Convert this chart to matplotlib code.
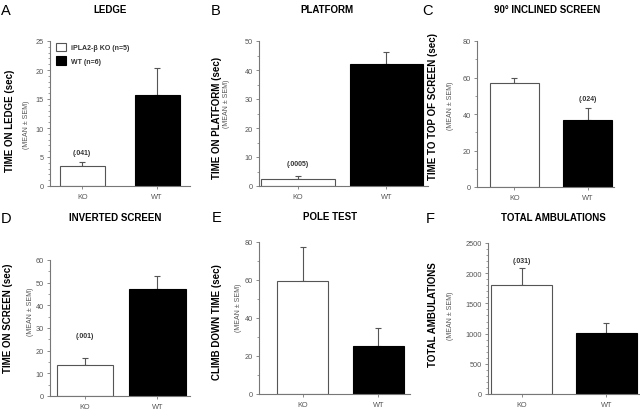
import numpy as np
import matplotlib
matplotlib.use("Agg")
import matplotlib.pyplot as plt
from matplotlib.ticker import MultipleLocator, AutoMinorLocator

plt.rcParams['font.family'] = ['Liberation Sans', 'DejaVu Sans']

# data (mean and upper SEM)
letters = ["A", "B", "C", "D", "E", "F"]
titles = ["LEDGE", "PLATFORM", "90° INCLINED SCREEN",
          "INVERTED SCREEN", "POLE TEST", "TOTAL AMBULATIONS"]
ylabels = ["TIME ON LEDGE (sec)", "TIME ON PLATFORM (sec)", "TIME TO TOP OF SCREEN (sec)",
           "TIME ON SCREEN (sec)", "CLIMB DOWN TIME (sec)", "TOTAL AMBULATIONS"]
groups = ["KO", "WT"]
ko_mean = [3.5, 2.5, 56.8, 13.8, 59.3, 1800]
ko_sem = [0.6, 1.0, 3.2, 2.9, 18.2, 290]
wt_mean = [15.7, 42.0, 36.8, 47.3, 25.5, 1010]
wt_sem = [4.7, 4.3, 6.4, 5.5, 9.0, 170]
ymax = [25, 50, 80, 60, 80, 2500]
ystep = [5, 10, 20, 10, 20, 500]
# p-value labels: (text, which bar) or None
pvals = [("(.041)", 0), ("(.0005)", 0), ("(.024)", 1), ("(.001)", 0), None, ("(.031)", 0)]
legend_labels = ["iPLA2-β KO (n=5)", "WT (n=6)"]

W, H = 640, 410
GRAY = "#777777"
TXT = "#333333"

# layout in pixels: axes box (l, r, t, b), xlim, bar width, minor divisions
layout = [
    dict(box=(50, 190, 42, 187), xlim=(-0.43, 1.44), bw=0.60, minor=5,
         lab=(10, 121), mean=(26, 125), title=(110, 10), letter=(1, 4), poff=7),
    dict(box=(259, 428, 42, 187), xlim=(-0.44, 1.47), bw=0.83, minor=2,
         lab=(217, 118), mean=(226, 104), title=(327, 10), letter=(211, 4), poff=9),
    dict(box=(477, 614, 42, 188), xlim=(-0.51, 1.36), bw=0.67, minor=2,
         lab=(433, 107), mean=(450, 106), title=(547, 10), letter=(422, 4), poff=7),
    dict(box=(50, 190, 261, 397), xlim=(-0.48, 1.45), bw=0.78, minor=2,
         lab=(8, 318), mean=(30, 312), title=(115, 218), letter=(1, 212), poff=16),
    dict(box=(259, 410, 243, 395), xlim=(-0.58, 1.42), bw=0.67, minor=2,
         lab=(217, 322), mean=(238, 308), title=(330, 217), letter=(212, 211), poff=0),
    dict(box=(488, 640, 244, 395), xlim=(-0.40, 1.40), bw=0.72, minor=5,
         lab=(433, 315), mean=(451, 316), title=(553, 218), letter=(426, 212), poff=5),
]

fig = plt.figure(figsize=(6.4, 4.1), dpi=100)

for i, lay in enumerate(layout):
    l, r, t, b = lay["box"]
    ax = fig.add_axes([l / W, 1 - b / H, (r - l) / W, (b - t) / H])
    x = np.arange(len(groups))
    bars = ax.bar(x, [ko_mean[i], wt_mean[i]], width=lay["bw"],
                  color=["white", "black"], edgecolor=["#555555", "black"],
                  linewidth=0.8, zorder=2)
    ax.errorbar(x, [ko_mean[i], wt_mean[i]], yerr=[[0, 0], [ko_sem[i], wt_sem[i]]],
                fmt="none", ecolor="#555555", elinewidth=0.8, capsize=2.2,
                capthick=0.8, zorder=1)
    ax.set_xlim(*lay["xlim"])
    ax.set_ylim(0, ymax[i])
    ax.yaxis.set_major_locator(MultipleLocator(ystep[i]))
    ax.yaxis.set_minor_locator(AutoMinorLocator(lay["minor"]))
    ax.set_xticks(x)
    ax.set_xticklabels(groups)
    for s in ["top", "right"]:
        ax.spines[s].set_visible(False)
    for s in ["left", "bottom"]:
        ax.spines[s].set_color(GRAY)
        ax.spines[s].set_linewidth(0.8)
    ax.tick_params(axis="both", which="major", length=2.5, width=0.6,
                   color=GRAY, labelcolor="#555555", labelsize=5.3, pad=2)
    ax.tick_params(axis="y", which="minor", length=1.3, width=0.5, color=GRAY)
    ax.tick_params(axis="x", pad=2.5)

    if pvals[i] is not None:
        txt, k = pvals[i]
        top = [ko_mean[i] + ko_sem[i], wt_mean[i] + wt_sem[i]][k]
        ax.annotate(txt, (x[k], top), xytext=(0, lay["poff"]), textcoords="offset points",
                    ha="center", va="center", fontsize=5, fontweight="bold", color=TXT)

    if i == 0:
        ax.legend(bars, legend_labels, loc="upper left",
                  bbox_to_anchor=(53 / W, 1 - 41 / H), bbox_transform=fig.transFigure,
                  frameon=False, fontsize=5, handlelength=1.5, handleheight=1.5,
                  labelspacing=0.7, handletextpad=0.7, borderaxespad=0,
                  labelcolor=TXT, prop={"weight": "bold", "size": 5})

    # labels and titles placed in figure pixels
    fig.text(lay["lab"][0] / W, 1 - lay["lab"][1] / H, ylabels[i], rotation=90,
             ha="center", va="center", fontsize=7, fontweight="bold", color="black")
    fig.text(lay["mean"][0] / W, 1 - lay["mean"][1] / H, "(MEAN ± SEM)", rotation=90,
             ha="center", va="center", fontsize=5, color="#555555")
    fig.text(lay["title"][0] / W, 1 - lay["title"][1] / H, titles[i],
             ha="center", va="center", fontsize=7, fontweight="bold", color="black")
    fig.text(lay["letter"][0] / W, 1 - lay["letter"][1] / H, letters[i],
             ha="left", va="top", fontsize=10.5, color="black")

fig.savefig("out.png", dpi=100)
